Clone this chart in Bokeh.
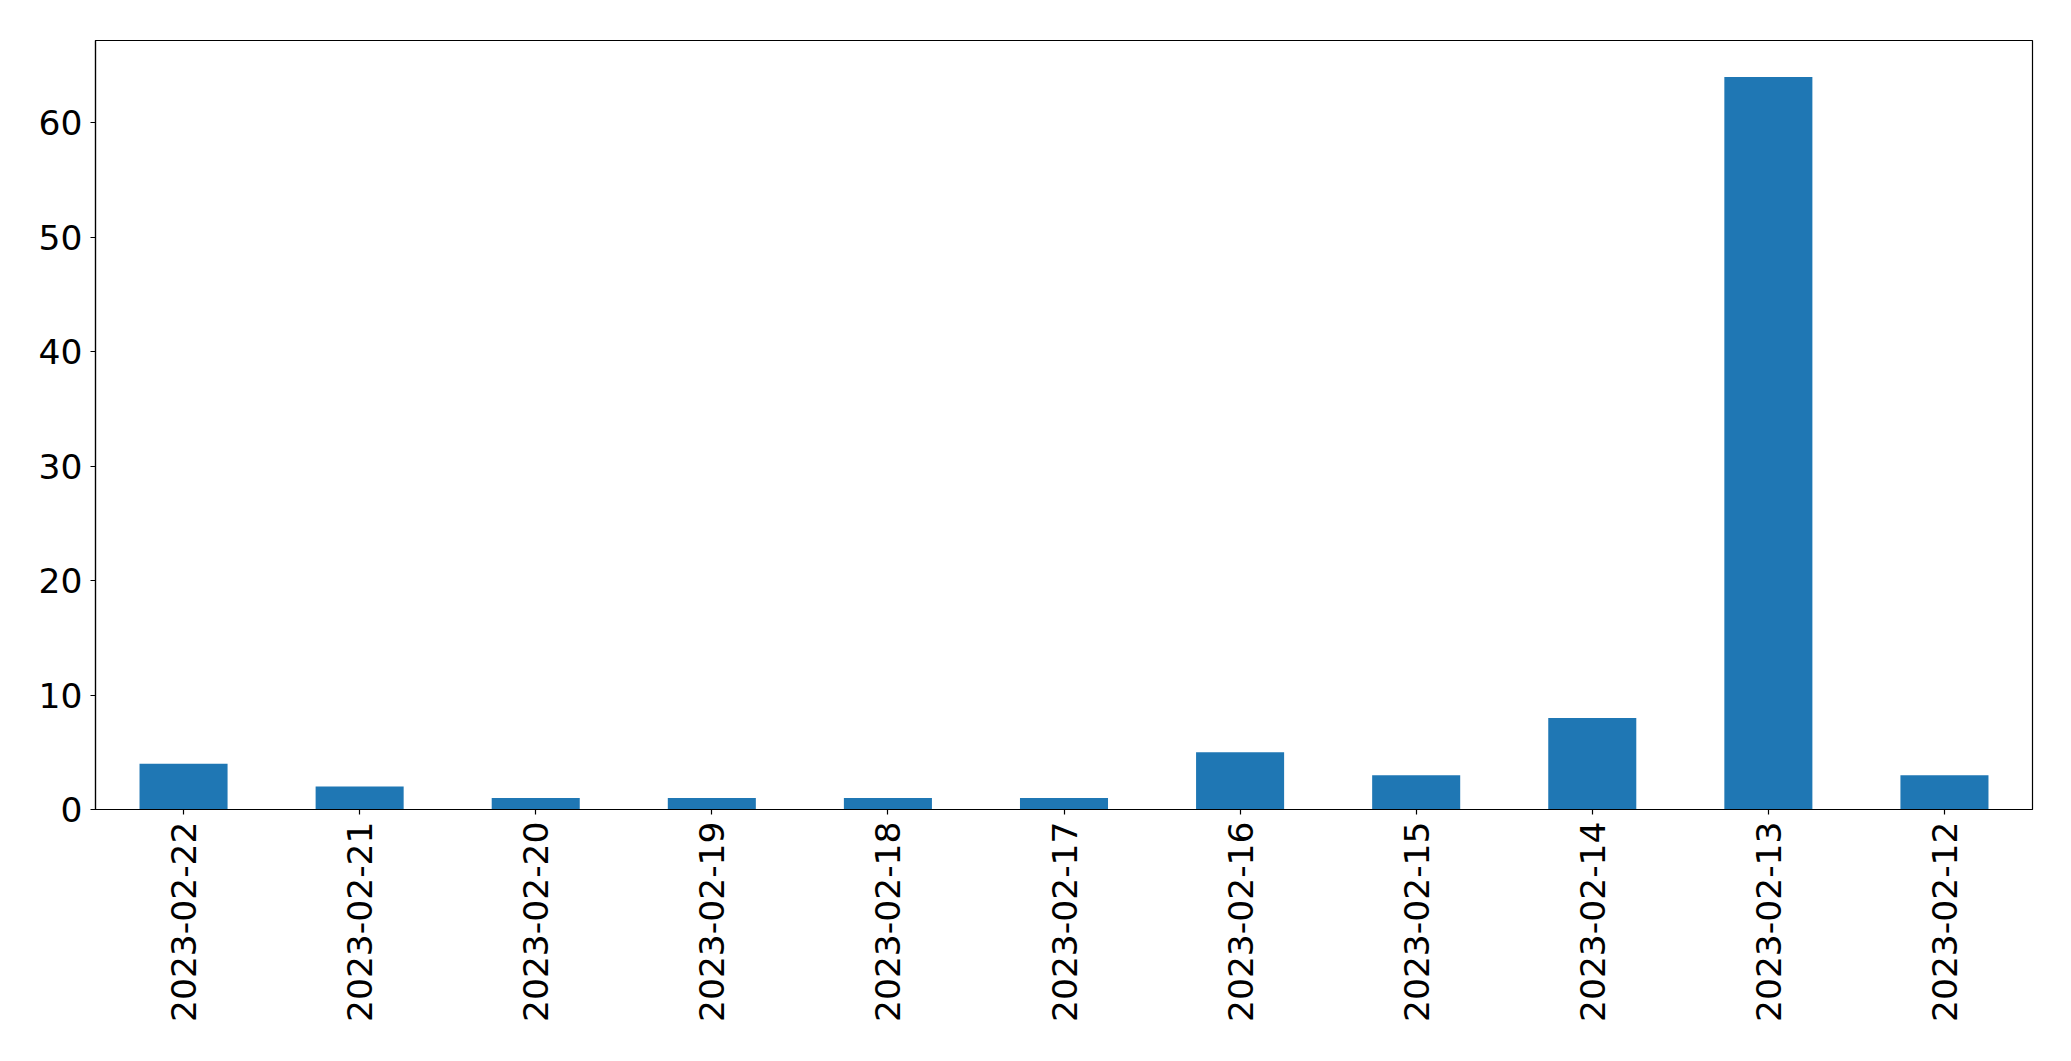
import math
from bokeh.plotting import figure
from bokeh.models import FactorRange, Range1d, FixedTicker, ColumnDataSource
from bokeh.embed import file_html
from bokeh.resources import INLINE

dates = ["2023-02-22", "2023-02-21", "2023-02-20", "2023-02-19", "2023-02-18",
         "2023-02-17", "2023-02-16", "2023-02-15", "2023-02-14", "2023-02-13",
         "2023-02-12"]
counts = [4, 2, 1, 1, 1, 1, 5, 3, 8, 64, 3]
y_ticks = [0, 10, 20, 30, 40, 50, 60]

source = ColumnDataSource(data=dict(dates=dates, counts=counts))

p = figure(
    x_range=FactorRange(factors=dates, range_padding=0),
    y_range=Range1d(0, max(counts) * 1.05),
    frame_width=1937, frame_height=769,
    min_border_left=95, min_border_top=40, min_border_right=20, min_border_bottom=10,
    output_backend="svg", toolbar_location=None,
)
p.vbar(x="dates", top="counts", width=0.5, source=source,
       fill_color="#1f77b4", line_color=None)

p.xgrid.visible = False
p.ygrid.visible = False
p.outline_line_color = "black"
p.outline_line_width = 1.2
p.background_fill_color = "white"
p.border_fill_color = "white"

p.yaxis.ticker = FixedTicker(ticks=y_ticks)
for ax in (p.xaxis, p.yaxis):
    ax.axis_line_color = "black"
    ax.axis_line_width = 1.2
    ax.major_tick_line_color = "black"
    ax.major_tick_line_width = 1.2
    ax.major_tick_in = 0
    ax.major_tick_out = 5
    ax.minor_tick_line_color = None
    ax.major_label_text_font = "DejaVu Sans"
    ax.major_label_text_font_size = "34.5px"
    ax.major_label_text_color = "black"

p.xaxis.major_label_orientation = math.pi / 2
p.xaxis.major_label_standoff = 7
p.yaxis.major_label_standoff = 8

open("out.html", "w").write(file_html(p, INLINE))
